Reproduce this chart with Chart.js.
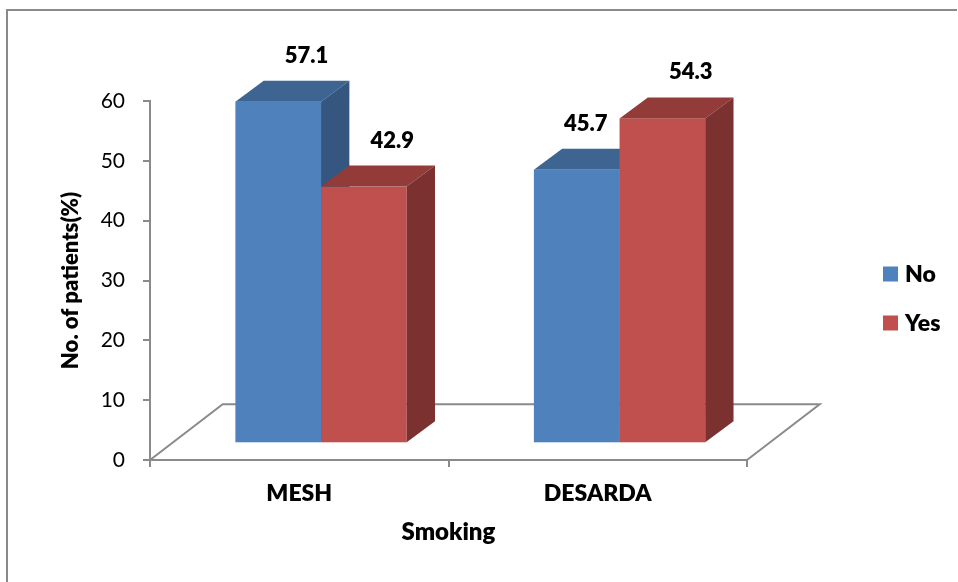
<!DOCTYPE html>
<html>
<head>
<meta charset="utf-8">
<title>Smoking</title>
<script src="https://cdn.jsdelivr.net/npm/chart.js@4/dist/chart.umd.min.js"></script>
<style>
  html, body { margin: 0; padding: 0; background: #ffffff; }
  canvas { display: block; }
</style>
</head>
<body>
<canvas id="chart" width="958" height="582"></canvas>
<script>
// Chart data
const categories = ['MESH', 'DESARDA'];
const seriesNames = ['No', 'Yes'];
const valuesNo = [57.1, 45.7];
const valuesYes = [42.9, 54.3];
const yTickValues = [0, 10, 20, 30, 40, 50, 60];

const axisTitleX = 'Smoking';
const axisTitleY = 'No. of patients(%)';

// Face shades for the 3D columns: front, top, right side
const shades = [
  { front: '#4F81BD', top: '#3E6491', side: '#34567F' },
  { front: '#C0504D', top: '#923B39', side: '#7A312F' }
];

// Depth geometry of the 3D floor and columns (pixels)
const GEO = {
  floorDx: 72.7, floorDy: 55.7,   // floor depth
  frontDx: 21.8, frontDy: 16.7,   // column front face inset from the floor front edge
  depthDx: 28.3, depthDy: 21.0    // column depth
};

const FONT = 'Lato, "Open Sans", "DejaVu Sans", sans-serif';
const HEAVY = '800';
const LINE = '#8a8a8a';

Chart.defaults.font.family = FONT;
Chart.defaults.color = '#000000';

function prism(ctx, left, right, top, bottom, s) {
  const dx = GEO.depthDx, dy = GEO.depthDy;
  // front
  ctx.fillStyle = s.front;
  ctx.fillRect(left, top, right - left, bottom - top);
  // top
  ctx.fillStyle = s.top;
  ctx.beginPath();
  ctx.moveTo(left, top);
  ctx.lineTo(left + dx, top - dy);
  ctx.lineTo(right + dx, top - dy);
  ctx.lineTo(right, top);
  ctx.closePath();
  ctx.fill();
  // right side
  ctx.fillStyle = s.side;
  ctx.beginPath();
  ctx.moveTo(right, top);
  ctx.lineTo(right + dx, top - dy);
  ctx.lineTo(right + dx, bottom - dy);
  ctx.lineTo(right, bottom);
  ctx.closePath();
  ctx.fill();
}

function frontRect(bar) {
  const half = bar.width / 2;
  return {
    left: bar.x - half + GEO.frontDx,
    right: bar.x + half + GEO.frontDx,
    top: bar.y - GEO.frontDy,
    bottom: bar.base - GEO.frontDy
  };
}

const columns3d = {
  id: 'columns3d',
  beforeDraw(chart) {
    // outer frame
    const ctx = chart.ctx;
    ctx.save();
    ctx.strokeStyle = LINE;
    ctx.lineWidth = 2;
    ctx.beginPath();
    ctx.moveTo(7, chart.height);
    ctx.lineTo(7, 10);
    ctx.lineTo(chart.width - 1, 10);
    ctx.stroke();
    ctx.restore();
  },
  beforeDatasetsDraw(chart) {
    const ctx = chart.ctx;
    const a = chart.chartArea;
    ctx.save();
    // floor outline (front edge is the x axis line)
    ctx.strokeStyle = LINE;
    ctx.lineWidth = 2;
    ctx.beginPath();
    ctx.moveTo(a.left, a.bottom);
    ctx.lineTo(a.left + GEO.floorDx, a.bottom - GEO.floorDy);
    ctx.lineTo(a.right + GEO.floorDx, a.bottom - GEO.floorDy);
    ctx.lineTo(a.right, a.bottom);
    ctx.stroke();
    // columns, drawn left to right so nearer faces overlap correctly
    for (let i = 0; i < categories.length; i++) {
      chart.data.datasets.forEach((ds, d) => {
        const bar = chart.getDatasetMeta(d).data[i];
        const r = frontRect(bar);
        prism(ctx, r.left, r.right, r.top, r.bottom, shades[d]);
      });
    }
    ctx.restore();
    return false;
  },
  afterDraw(chart) {
    const ctx = chart.ctx;
    ctx.save();
    // value labels above each column
    ctx.font = HEAVY + ' 22px ' + FONT;
    ctx.fillStyle = '#000000';
    ctx.textAlign = 'center';
    ctx.textBaseline = 'middle';
    const n = chart.data.datasets.length;
    for (let i = 0; i < categories.length; i++) {
      for (let d = 0; d < n; d++) {
        const ds = chart.data.datasets[d];
        const bar = chart.getDatasetMeta(d).data[i];
        const r = frontRect(bar);
        const text = ds.data[i].toFixed(1);
        const w = ctx.measureText(text).width;
        let x = (r.left + r.right) / 2 + GEO.depthDx;
        // keep clear of a taller neighbouring column
        if (d + 1 < n) {
          const nb = chart.getDatasetMeta(d + 1).data[i];
          if (chart.data.datasets[d + 1].data[i] > ds.data[i]) {
            x = Math.min(x, frontRect(nb).left - w / 2 - 12);
          }
        }
        const y = r.top - GEO.depthDy - 25;
        ctx.fillText(text, x, y);
      }
    }
    // legend
    ctx.font = HEAVY + ' 23px ' + FONT;
    ctx.textAlign = 'left';
    chart.data.datasets.forEach((ds, d) => {
      const cy = 274 + d * 49;
      ctx.fillStyle = shades[d].front;
      ctx.fillRect(883, cy - 7.5, 15, 15);
      ctx.fillStyle = '#000000';
      ctx.fillText(ds.label, 905, cy + 1);
    });
    ctx.restore();
  }
};

new Chart(document.getElementById('chart'), {
  type: 'bar',
  data: {
    labels: categories,
    datasets: [
      { label: seriesNames[0], data: valuesNo, backgroundColor: shades[0].front },
      { label: seriesNames[1], data: valuesYes, backgroundColor: shades[1].front }
    ]
  },
  options: {
    responsive: false,
    animation: false,
    devicePixelRatio: 1,
    categoryPercentage: 0.574,
    barPercentage: 1.0,
    layout: { padding: { top: 101, right: 211, left: 0, bottom: 0 } },
    plugins: {
      legend: { display: false },
      tooltip: { enabled: false }
    },
    scales: {
      x: {
        offset: true,
        afterFit(scale) { scale.height = 122; },
        grid: {
          offset: true,
          drawOnChartArea: false,
          drawTicks: true,
          tickLength: 7,
          color: LINE,
          lineWidth: 2
        },
        border: { display: true, color: LINE, width: 2 },
        ticks: {
          font: { size: 23, weight: HEAVY },
          color: '#000000',
          padding: 13,
          maxRotation: 0
        },
        title: {
          display: true,
          text: axisTitleX,
          font: { size: 24, weight: HEAVY },
          color: '#000000',
          padding: { top: 0, bottom: 35 }
        }
      },
      y: {
        min: yTickValues[0],
        max: yTickValues[yTickValues.length - 1],
        afterFit(scale) { scale.width = 150; },
        afterBuildTicks(scale) { scale.ticks = yTickValues.map(v => ({ value: v })); },
        grid: {
          drawOnChartArea: false,
          drawTicks: true,
          tickLength: 7,
          color: LINE,
          lineWidth: 2
        },
        border: { display: true, color: LINE, width: 2 },
        ticks: {
          font: { size: 21 },
          color: '#000000',
          padding: 18
        },
        title: {
          display: true,
          text: axisTitleY,
          font: { size: 22, weight: HEAVY },
          color: '#000000',
          padding: { top: 58, bottom: 0 }
        }
      }
    }
  },
  plugins: [columns3d]
});
</script>
</body>
</html>
